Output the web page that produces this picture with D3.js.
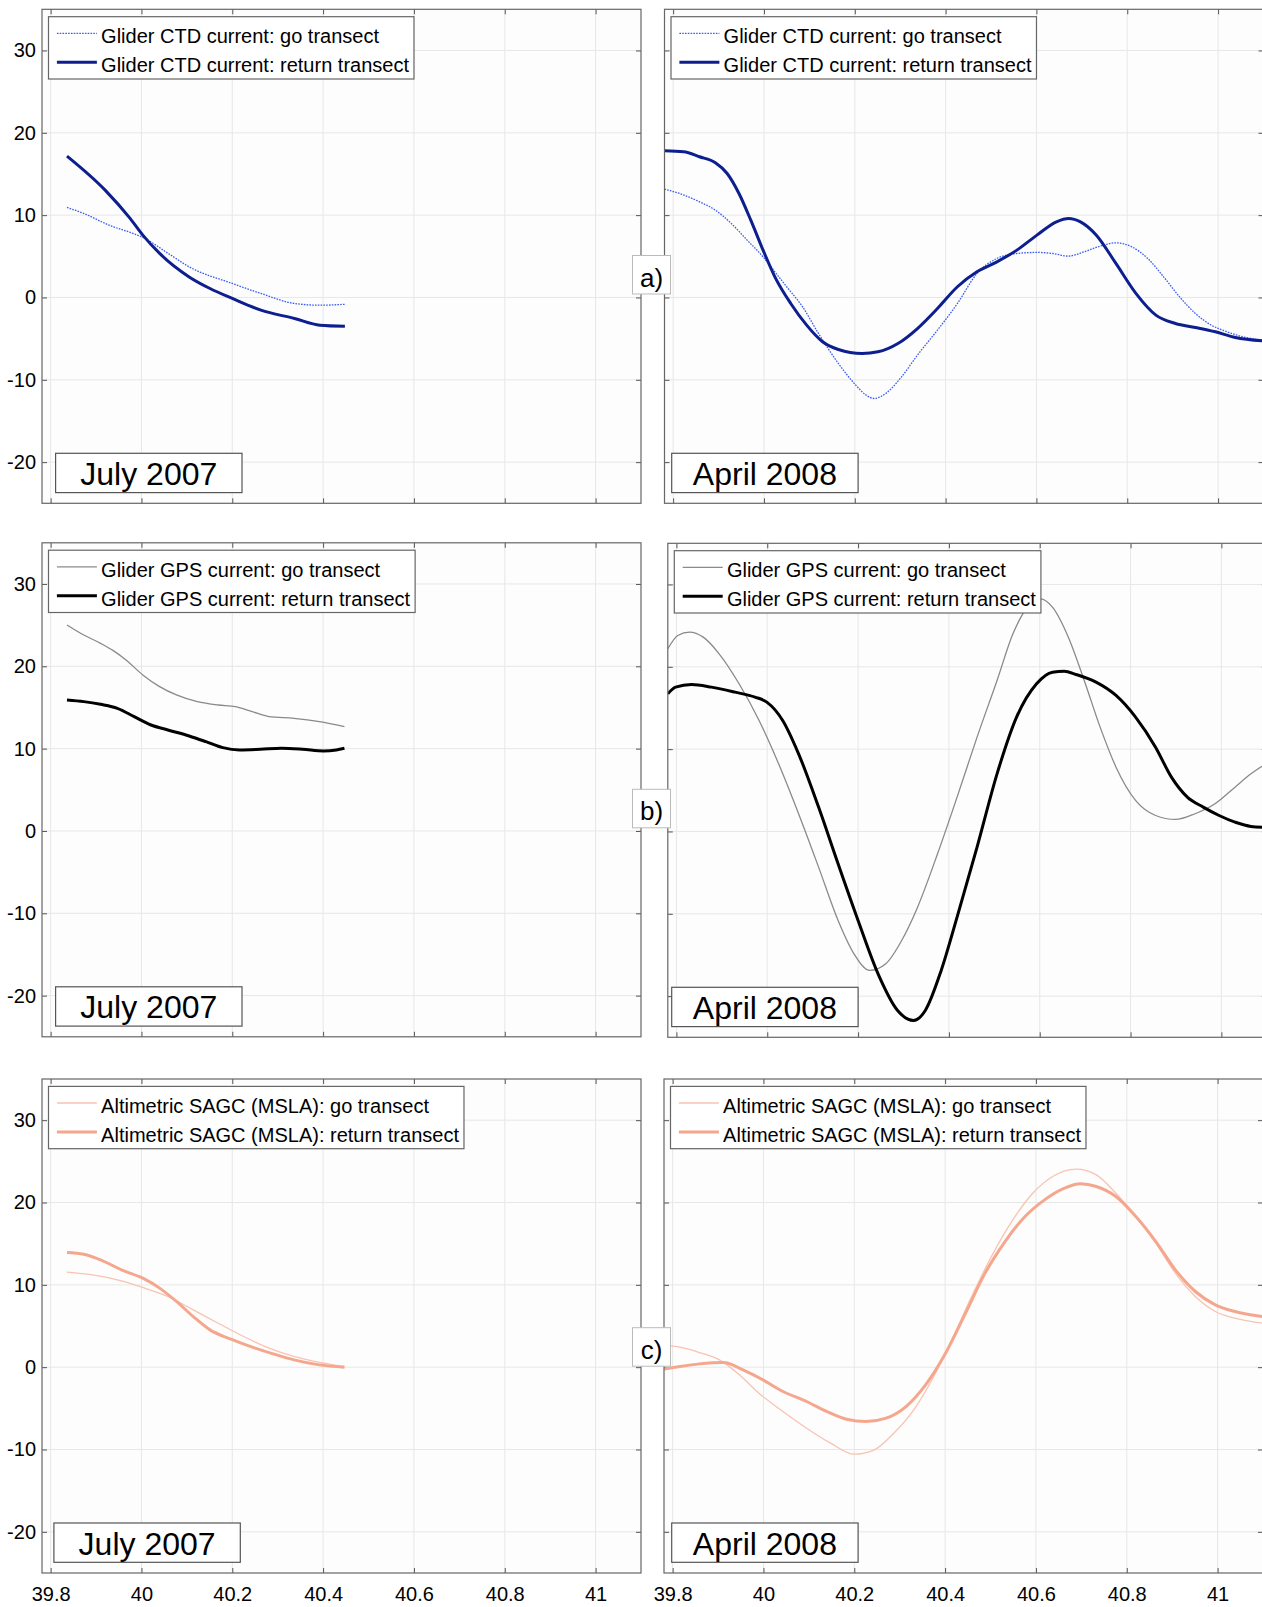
<!DOCTYPE html>
<html>
<head>
<meta charset="utf-8">
<script src="https://cdn.jsdelivr.net/npm/d3@7"></script>
<style>
body { margin: 0; background: #fff; }
svg { display: block; }
text { font-family: "Liberation Sans", Arial, sans-serif; fill: #000; }
</style>
</head>
<body>
<svg id="fig" width="1262" height="1607"></svg>
<script>
// axis ticks
const xTicks = [39.8, 40, 40.2, 40.4, 40.6, 40.8, 41]
const xTickLabels = ["39.8", "40", "40.2", "40.4", "40.6", "40.8", "41"]
const yTicks = [-20, -10, 0, 10, 20, 30]
const yTickLabels = ["-20", "-10", "0", "10", "20", "30"]

// a) glider CTD current, [latitude, value]
const ctdJulyGo = [[39.836,10.93],[39.873,10.2],[39.929,8.78],[39.985,7.7],[40.003,7.29],[40.059,5.35],[40.105,3.72],[40.2,1.7],[40.263,0.49],[40.337,-0.73],[40.393,-0.94],[40.448,-0.83]]
const ctdJulyRet = [[39.836,17.17],[39.92,13.04],[39.975,9.6],[40.003,7.57],[40.04,5.35],[40.105,2.5],[40.151,1.09],[40.2,-0.12],[40.263,-1.54],[40.337,-2.55],[40.393,-3.37],[40.448,-3.5]]
const ctdAprGo = [[39.781,13.16],[39.814,12.63],[39.858,11.62],[39.893,10.61],[39.928,8.99],[39.963,6.96],[39.998,4.94],[40.024,3.12],[40.05,1.3],[40.085,-1.13],[40.12,-4.37],[40.164,-8.02],[40.199,-10.45],[40.225,-11.86],[40.242,-12.27],[40.268,-11.66],[40.303,-9.64],[40.338,-7.0],[40.382,-3.97],[40.426,-0.73],[40.469,2.91],[40.513,4.74],[40.557,5.34],[40.601,5.47],[40.636,5.34],[40.67,5.02],[40.705,5.55],[40.74,6.23],[40.775,6.64],[40.81,6.15],[40.845,4.74],[40.88,2.51],[40.915,0.08],[40.95,-1.94],[40.985,-3.36],[41.02,-4.17],[41.055,-4.78],[41.1,-5.2]]
const ctdAprRet = [[39.781,17.81],[39.823,17.69],[39.858,17.09],[39.893,16.36],[39.919,15.06],[39.945,12.63],[39.971,9.39],[39.998,5.75],[40.024,2.51],[40.059,-0.73],[40.094,-3.36],[40.129,-5.38],[40.164,-6.32],[40.216,-6.8],[40.251,-6.6],[40.295,-5.59],[40.338,-3.77],[40.382,-1.34],[40.426,1.3],[40.469,3.12],[40.513,4.33],[40.557,5.75],[40.601,7.57],[40.644,9.19],[40.671,9.6],[40.697,9.19],[40.732,7.57],[40.775,4.13],[40.819,0.49],[40.863,-2.15],[40.906,-3.16],[40.95,-3.64],[40.994,-4.17],[41.038,-4.86],[41.1,-5.28]]

// b) glider GPS current
const gpsJulyGo = [[39.836,25.02],[39.873,23.8],[39.91,22.79],[39.938,21.9],[39.966,20.77],[40.003,18.95],[40.04,17.53],[40.077,16.52],[40.123,15.71],[40.169,15.3],[40.207,15.1],[40.244,14.49],[40.281,13.89],[40.336,13.68],[40.392,13.28],[40.447,12.67]]
const gpsJulyRet = [[39.836,15.91],[39.873,15.71],[39.91,15.38],[39.947,14.9],[39.984,13.89],[40.021,12.87],[40.058,12.27],[40.105,11.54],[40.142,10.85],[40.179,10.12],[40.216,9.84],[40.262,9.92],[40.308,10.04],[40.355,9.92],[40.401,9.72],[40.429,9.84],[40.447,10.04]]
const gpsAprGo = [[39.781,22.19],[39.803,23.8],[39.829,24.21],[39.859,23.6],[39.894,21.58],[39.938,17.94],[39.982,13.48],[40.025,8.22],[40.069,2.15],[40.113,-4.33],[40.156,-10.81],[40.191,-14.86],[40.226,-16.88],[40.261,-16.07],[40.296,-13.24],[40.331,-9.19],[40.375,-2.71],[40.418,4.17],[40.462,11.46],[40.506,18.34],[40.541,24.01],[40.576,27.45],[40.602,28.26],[40.628,27.25],[40.663,23.6],[40.698,18.34],[40.733,12.67],[40.768,7.81],[40.811,3.77],[40.855,1.94],[40.899,1.46],[40.942,2.15],[40.986,3.36],[41.03,5.38],[41.065,7.0],[41.1,8.3]]
const gpsAprRet = [[39.781,16.72],[39.798,17.53],[39.833,17.85],[39.877,17.53],[39.929,16.92],[39.973,16.32],[39.999,15.71],[40.034,13.48],[40.069,9.43],[40.113,2.96],[40.156,-3.93],[40.2,-10.81],[40.244,-17.29],[40.287,-21.74],[40.322,-22.96],[40.348,-21.74],[40.383,-16.88],[40.418,-10.4],[40.462,-1.9],[40.506,7.0],[40.549,13.89],[40.593,17.94],[40.628,19.35],[40.654,19.47],[40.68,19.07],[40.724,18.14],[40.768,16.52],[40.811,13.89],[40.855,10.24],[40.89,6.6],[40.925,4.17],[40.96,2.96],[40.995,1.94],[41.03,1.13],[41.065,0.61],[41.1,0.5]]

// c) altimetric SAGC (MSLA)
const sagcJulyGo = [[39.836,11.54],[39.892,11.21],[39.947,10.61],[40.003,9.68],[40.058,8.58],[40.114,6.96],[40.169,5.34],[40.225,3.72],[40.281,2.31],[40.336,1.3],[40.392,0.57],[40.447,0.08]]
const sagcJulyRet = [[39.836,13.93],[39.873,13.72],[39.91,13.04],[39.956,11.82],[40.003,10.81],[40.04,9.6],[40.077,7.98],[40.114,6.15],[40.151,4.53],[40.197,3.4],[40.244,2.43],[40.29,1.62],[40.336,0.89],[40.392,0.28],[40.447,0.0]]
const sagcAprGo = [[39.781,2.71],[39.816,2.43],[39.859,1.78],[39.903,0.89],[39.947,-0.93],[39.99,-3.16],[40.043,-5.38],[40.095,-7.41],[40.148,-9.23],[40.2,-10.57],[40.244,-10.04],[40.287,-8.02],[40.331,-5.18],[40.375,-1.13],[40.418,3.72],[40.462,8.99],[40.506,13.85],[40.549,17.89],[40.593,21.13],[40.637,23.16],[40.689,24.05],[40.733,23.36],[40.776,21.13],[40.82,18.3],[40.864,15.06],[40.907,11.42],[40.951,8.58],[40.995,6.76],[41.038,5.95],[41.1,5.34]]
const sagcAprRet = [[39.781,-0.24],[39.816,0.08],[39.859,0.4],[39.912,0.57],[39.955,-0.32],[39.999,-1.54],[40.043,-2.96],[40.095,-4.17],[40.139,-5.38],[40.183,-6.32],[40.226,-6.6],[40.27,-6.19],[40.314,-4.78],[40.357,-2.15],[40.401,1.7],[40.445,6.56],[40.488,11.42],[40.532,15.26],[40.576,18.3],[40.619,20.32],[40.663,21.74],[40.698,22.27],[40.733,21.94],[40.776,20.73],[40.82,18.3],[40.864,15.26],[40.907,11.82],[40.951,9.19],[40.995,7.57],[41.038,6.76],[41.1,6.15]]

const kinds = {
  ctd: { go: "Glider CTD current: go transect", ret: "Glider CTD current: return transect",
         goColor: "#3a5cf2", retColor: "#0d1f8e", goDash: "1.6,1.2" },
  gps: { go: "Glider GPS current: go transect", ret: "Glider GPS current: return transect",
         goColor: "#8a8a8a", retColor: "#000000", goDash: null },
  sagc: { go: "Altimetric SAGC (MSLA): go transect", ret: "Altimetric SAGC (MSLA): return transect",
          goColor: "#f9c3b0", retColor: "#f5a78d", goDash: null }
}

const W = 599, H = 494
const svg = d3.select("#fig")

// dateX = left edge of the date box, in page pixels
const panels = [
  { left: 42, top: 9.3, kind: "ctd", date: "July 2007", go: ctdJulyGo, ret: ctdJulyRet, yLab: true, xLab: false, dateX: 55.6 },
  { left: 664.5, top: 9.3, kind: "ctd", date: "April 2008", go: ctdAprGo, ret: ctdAprRet, yLab: false, xLab: false, dateX: 671.7 },
  { left: 42, top: 542.8, kind: "gps", date: "July 2007", go: gpsJulyGo, ret: gpsJulyRet, yLab: true, xLab: false, dateX: 55.6 },
  { left: 667.8, top: 543.3, kind: "gps", date: "April 2008", go: gpsAprGo, ret: gpsAprRet, yLab: false, xLab: false, dateX: 671.7 },
  { left: 42, top: 1079, kind: "sagc", date: "July 2007", go: sagcJulyGo, ret: sagcJulyRet, yLab: true, xLab: true, dateX: 53.9 },
  { left: 664, top: 1079, kind: "sagc", date: "April 2008", go: sagcAprGo, ret: sagcAprRet, yLab: false, xLab: true, dateX: 671.7 }
]

panels.forEach((p, i) => {
  const k = kinds[p.kind]
  const x = d3.scaleLinear().domain([39.781, 41.1]).range([0, W])
  const y = d3.scaleLinear().domain([-25, 35]).range([H, 0])
  const g = svg.append("g").attr("transform", `translate(${p.left},${p.top})`)

  g.append("clipPath").attr("id", "clip" + i)
    .append("rect").attr("width", W).attr("height", H)

  g.append("rect").attr("width", W).attr("height", H).attr("fill", "#fdfdfd")

  // grid
  g.selectAll(".vg").data(xTicks).enter().append("line")
    .attr("x1", d => x(d)).attr("x2", d => x(d)).attr("y1", 0).attr("y2", H)
    .attr("stroke", "#e7e7e7").attr("stroke-width", 1)
  g.selectAll(".hg").data(yTicks).enter().append("line")
    .attr("x1", 0).attr("x2", W).attr("y1", d => y(d)).attr("y2", d => y(d))
    .attr("stroke", "#e7e7e7").attr("stroke-width", 1)

  // inward ticks on all four sides
  const xFmt = (d, j) => p.xLab ? xTickLabels[j] : ""
  const yFmt = (d, j) => p.yLab ? yTickLabels[j] : ""
  const axes = [
    g.append("g").attr("transform", `translate(0,${H})`)
      .call(d3.axisBottom(x).tickValues(xTicks).tickSize(-5).tickPadding(14).tickFormat(xFmt)),
    g.append("g").call(d3.axisTop(x).tickValues(xTicks).tickSize(-5).tickFormat("")),
    g.append("g").call(d3.axisLeft(y).tickValues(yTicks).tickSize(-5).tickPadding(6).tickFormat(yFmt)),
    g.append("g").attr("transform", `translate(${W},0)`)
      .call(d3.axisRight(y).tickValues(yTicks).tickSize(-5).tickFormat(""))
  ]
  axes.forEach(a => {
    a.select(".domain").remove()
    a.selectAll("line").attr("stroke", "#555")
    a.selectAll("text").style("font-size", "20px").attr("fill", "#000")
  })

  // curves
  const line = d3.line().x(d => x(d[0])).y(d => y(d[1])).curve(d3.curveMonotoneX)
  const lines = g.append("g").attr("clip-path", `url(#clip${i})`)
  lines.append("path").datum(p.go).attr("d", line)
    .attr("fill", "none").attr("stroke", k.goColor).attr("stroke-width", 1.3)
    .attr("stroke-dasharray", k.goDash)
  lines.append("path").datum(p.ret).attr("d", line)
    .attr("fill", "none").attr("stroke", k.retColor).attr("stroke-width", 3)
    .attr("stroke-linejoin", "round")

  // frame
  g.append("rect").attr("width", W).attr("height", H)
    .attr("fill", "none").attr("stroke", "#666").attr("stroke-width", 1.2)

  // legend
  const lg = g.append("g").attr("transform", "translate(6.5,7.4)")
  const box = lg.append("rect").attr("height", 62.3)
    .attr("fill", "#fff").attr("stroke", "#666").attr("stroke-width", 1.2)
  const entries = [
    { name: k.go, color: k.goColor, w: 1.3, dash: k.goDash },
    { name: k.ret, color: k.retColor, w: 3, dash: null }
  ]
  let maxLen = 0
  entries.forEach((e, j) => {
    const by = 26.6 + j * 29
    lg.append("line").attr("x1", 8.4).attr("x2", 48.4).attr("y1", by - 10).attr("y2", by - 10)
      .attr("stroke", e.color).attr("stroke-width", e.w).attr("stroke-dasharray", e.dash)
    const t = lg.append("text").attr("x", 52.6).attr("y", by).style("font-size", "20px").text(e.name)
    maxLen = Math.max(maxLen, t.node().getComputedTextLength())
  })
  box.attr("width", 52.6 + maxLen + 5)

  // date box
  const dg = g.append("g").attr("transform", `translate(${p.dateX - p.left},${H - 10.7 - 39.3})`)
  dg.append("rect").attr("width", 186.4).attr("height", 39.3)
    .attr("fill", "#fff").attr("stroke", "#555").attr("stroke-width", 1.2)
  dg.append("text").attr("x", 93.2).attr("y", 31.7).attr("text-anchor", "middle")
    .style("font-size", "32px").text(p.date)
})

// panel letters between the columns
const letters = ["a)", "b)", "c)"]
const letterTops = [255.5, 789.3, 1327.7]
letters.forEach((s, i) => {
  const lg = svg.append("g").attr("transform", `translate(632.5,${letterTops[i]})`)
  lg.append("rect").attr("width", 38).attr("height", 38.5)
    .attr("fill", "#fff").attr("stroke", "#bbb").attr("stroke-width", 1)
  lg.append("text").attr("x", 19).attr("y", 31).attr("text-anchor", "middle")
    .style("font-size", "26px").text(s)
})
</script>
</body>
</html>
